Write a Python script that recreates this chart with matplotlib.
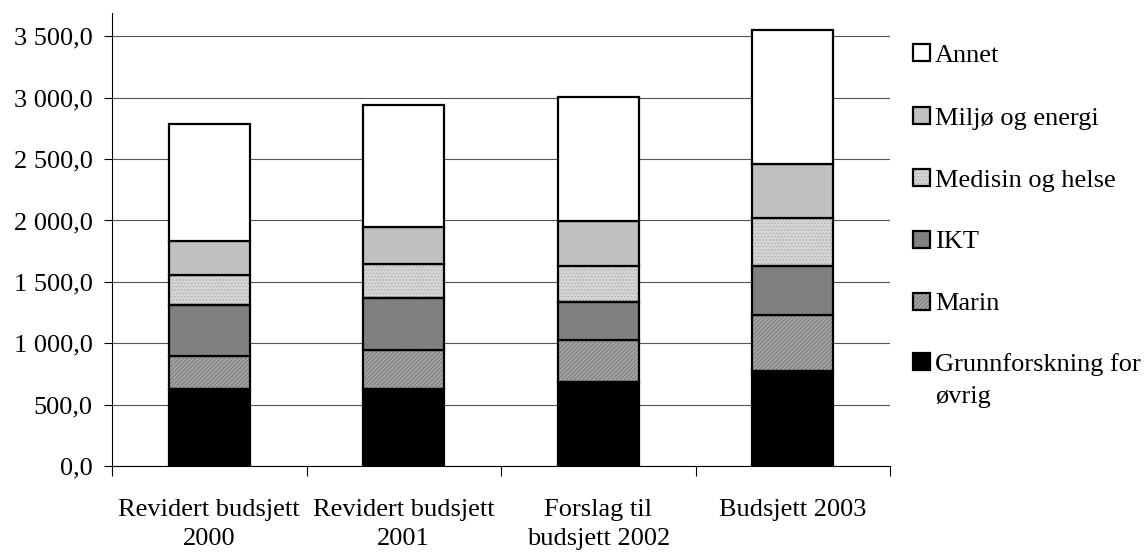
import matplotlib
matplotlib.use("Agg")
import matplotlib.pyplot as plt
from matplotlib.patches import Rectangle
from matplotlib.ticker import FuncFormatter, FixedLocator
import numpy as np

# Budget categories (x axis)
categories = ["Revidert budsjett\n2000", "Revidert budsjett\n2001",
              "Forslag til\nbudsjett 2002", "Budsjett 2003"]

# Stacked series, bottom to top
grunnforskning = [624, 627, 684, 776]
marin = [274, 320, 339, 453]
ikt = [412, 423, 312, 401]
medisin = [245, 277, 295, 394]
miljo = [279, 298, 364, 432]
annet = [955, 993, 1012, 1098]

series_names = ["Grunnforskning for\nøvrig", "Marin", "IKT",
                "Medisin og helse", "Miljø og energi", "Annet"]
y_ticks = [0, 500, 1000, 1500, 2000, 2500, 3000, 3500]

plt.rcParams["font.family"] = ["Liberation Serif", "DejaVu Serif"]
plt.rcParams["hatch.linewidth"] = 0.5
FS = 19

# face colour, hatch pattern, hatch colour
styles = [
    ("#000000", None, None),
    ("#a4a4a4", "////////", "#6a6a6a"),
    ("#808080", None, None),
    ("#d4d4d4", ".....", "#a8a8a8"),
    ("#c0c0c0", None, None),
    ("#ffffff", None, None),
]

W, H = 1146, 554
fig = plt.figure(figsize=(W / 100, H / 100), dpi=100)
ax = fig.add_axes([112 / W, 1 - 466 / H, (890 - 112) / W, (466 - 13) / H])

x = np.arange(len(categories))
bw = 1 / 2.4
data = [grunnforskning, marin, ikt, medisin, miljo, annet]
bottom = np.zeros(len(categories))
for vals, (fc, hatch, hc) in zip(data, styles):
    vals = np.array(vals, dtype=float)
    if hatch:
        ax.bar(x, vals, bw, bottom=bottom, color=fc, hatch=hatch,
               edgecolor=hc, linewidth=0, zorder=2)
        ax.bar(x, vals, bw, bottom=bottom, fill=False,
               edgecolor="black", linewidth=1.6, zorder=3)
    else:
        ax.bar(x, vals, bw, bottom=bottom, color=fc,
               edgecolor="black", linewidth=1.6, zorder=3)
    bottom += vals

ax.set_xlim(-0.5, len(categories) - 0.5)
ax.set_ylim(0, 3690)

ax.yaxis.set_major_locator(FixedLocator(y_ticks))
ax.yaxis.set_major_formatter(FuncFormatter(
    lambda v, p: f"{v:,.1f}".replace(",", " ").replace(".", ",")))
ax.grid(axis="y", color="#555555", linewidth=0.8, zorder=0)
ax.set_axisbelow(True)

ax.set_xticks(x)
ax.set_xticklabels(categories, fontsize=FS, linespacing=1.45)
ax.tick_params(axis="x", which="major", length=0, pad=23.5)
ax.set_xticks(np.arange(-0.5, len(categories)), minor=True)
ax.tick_params(axis="x", which="minor", length=7, width=0.8, direction="out")
ax.tick_params(axis="y", labelsize=FS, length=6, width=0.8, pad=8)

for s in ["top", "right"]:
    ax.spines[s].set_visible(False)
for s in ["left", "bottom"]:
    ax.spines[s].set_linewidth(0.8)
    ax.spines[s].set_color("black")

# Legend drawn in pixel coordinates on an overlay axes
lax = fig.add_axes([0, 0, 1, 1])
lax.set_xlim(0, W)
lax.set_ylim(H, 0)
lax.axis("off")
leg_y = [52, 115, 177, 239, 301, 361]
order = [5, 4, 3, 2, 1, 0]
for yc, idx in zip(leg_y, order):
    fc, hatch, hc = styles[idx]
    if hatch:
        lax.add_patch(Rectangle((913, yc - 8.5), 17, 17, facecolor=fc,
                                hatch=hatch, edgecolor=hc, linewidth=0))
        lax.add_patch(Rectangle((913, yc - 8.5), 17, 17, fill=False,
                                edgecolor="black", linewidth=1.6))
    else:
        lax.add_patch(Rectangle((913, yc - 8.5), 17, 17, facecolor=fc,
                                edgecolor="black", linewidth=1.6))
    lax.text(935, yc + 1, series_names[idx].split("\n")[0], fontsize=FS,
             ha="left", va="center_baseline")
    if "\n" in series_names[idx]:
        lax.text(935, yc + 33, series_names[idx].split("\n")[1], fontsize=FS,
                 ha="left", va="center_baseline")

fig.savefig("out.png", dpi=100, facecolor="white")
